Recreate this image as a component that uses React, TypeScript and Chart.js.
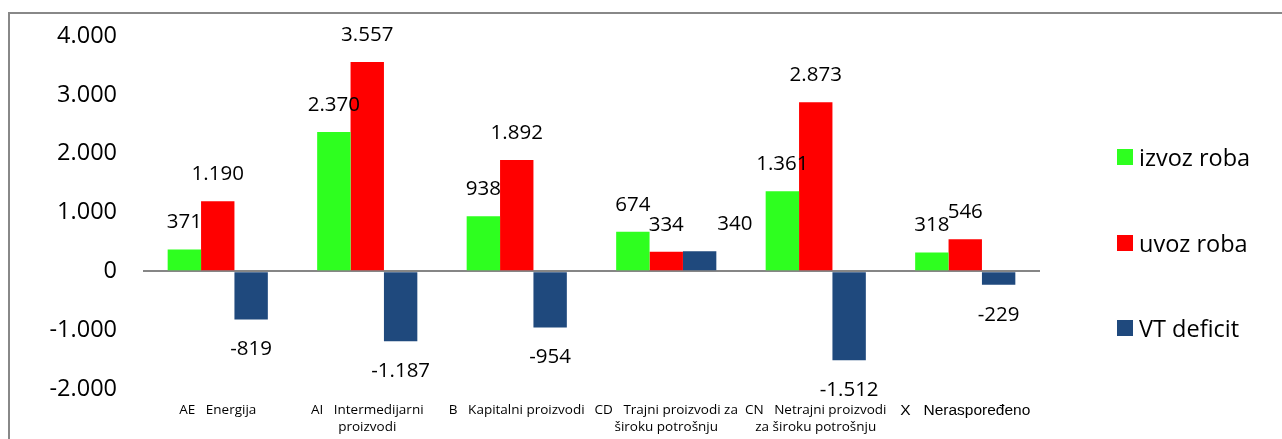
import React, { useEffect, useRef } from 'react';
import { Chart, registerables } from 'chart.js';

Chart.register(...registerables);

const categories: string[][] = [
  ['AE   Energija'],
  ['AI   Intermedijarni', 'proizvodi'],
  ['B   Kapitalni proizvodi'],
  ['CD   Trajni proizvodi za', 'široku potrošnju'],
  ['CN   Netrajni proizvodi', 'za široku potrošnju'],
  ['X   Neraspoređeno'],
];
const seriesNames = ['izvoz roba', 'uvoz roba', 'VT deficit'];
const izvozRoba = [371, 2370, 938, 674, 1361, 318];
const uvozRoba = [1190, 3557, 1892, 334, 2873, 546];
const vtDeficit = [-819, -1187, -954, 340, -1512, -229];
const seriesColors = ['#2EFF1F', '#FF0000', '#1F497D'];
const yMin = -2000;
const yMax = 4000;
const yStep = 1000;

const FONT = '"Open Sans", sans-serif';

function fmt(v: number): string {
  const s = Math.abs(v).toString().replace(/\B(?=(\d{3})+(?!\d))/g, '.');
  return (v < 0 ? '-' : '') + s;
}

const valueLabels = {
  id: 'valueLabels',
  afterDatasetsDraw(chart: any) {
    const { ctx } = chart;
    ctx.save();
    ctx.font = `20.5px ${FONT}`;
    ctx.fillStyle = '#000';
    ctx.textAlign = 'center';
    ctx.textBaseline = 'middle';
    const n = chart.data.labels.length;
    for (let j = 0; j < n; j++) {
      let prev: { right: number; y: number } | null = null;
      chart.data.datasets.forEach((ds: any, i: number) => {
        const el = chart.getDatasetMeta(i).data[j];
        const v = ds.data[j] as number;
        const text = fmt(v);
        const w = ctx.measureText(text).width;
        let x = el.x;
        const y = v >= 0 ? el.y - 27 : el.y + 30;
        if (prev && Math.abs(prev.y - y) < 3 && x - w / 2 < prev.right) {
          x += w;
        }
        ctx.fillText(text, x, y);
        prev = { right: x + w / 2, y };
      });
    }
    ctx.restore();
  },
};

export default function App() {
  const ref = useRef<HTMLCanvasElement | null>(null);

  useEffect(() => {
    if (!ref.current) return;
    const series = [izvozRoba, uvozRoba, vtDeficit];
    const chart = new Chart(ref.current, {
      type: 'bar',
      data: {
        labels: categories,
        datasets: series.map((d, i) => ({
          label: seriesNames[i],
          data: d,
          backgroundColor: seriesColors[i],
          borderWidth: 0,
          barPercentage: 1,
          categoryPercentage: 0.67,
        })),
      },
      options: {
        animation: false,
        responsive: true,
        maintainAspectRatio: false,
        layout: { padding: { top: 22, right: 234, bottom: 0, left: 0 } },
        plugins: {
          legend: { display: false },
          tooltip: { enabled: false },
          title: { display: false },
        },
        scales: {
          x: {
            grid: { display: false, drawTicks: false },
            border: { display: false },
            ticks: {
              color: '#000',
              padding: 13,
              maxRotation: 0,
              minRotation: 0,
              autoSkip: false,
              font: (ctx: any) =>
                ctx.index === 5
                  ? { family: 'Arial, "Liberation Sans", sans-serif', size: 15.5, lineHeight: 1.1 }
                  : { family: FONT, size: 13.5, lineHeight: 1.26 },
            },
            afterFit: (scale: any) => {
              scale.height = 50;
            },
          },
          y: {
            min: yMin,
            max: yMax,
            z: 1,
            border: { display: false },
            grid: {
              drawTicks: true,
              tickLength: 26,
              tickColor: 'rgba(0,0,0,0)',
              lineWidth: 2,
              color: (ctx: any) => (ctx.tick && ctx.tick.value === 0 ? '#868686' : 'rgba(0,0,0,0)'),
            },
            ticks: {
              stepSize: yStep,
              padding: 0,
              color: '#000',
              font: { family: FONT, size: 23.5 },
              callback: (v: any) => fmt(Number(v)),
            },
            afterFit: (scale: any) => {
              scale.width = 133;
            },
          },
        },
      },
      plugins: [valueLabels],
    });
    return () => chart.destroy();
  }, []);

  return (
    <div
      style={{
        position: 'fixed',
        left: 0,
        top: 0,
        width: 1282,
        height: 439,
        overflow: 'hidden',
        background: '#fff',
      }}
    >
      <div
        style={{
          position: 'absolute',
          left: 8,
          top: 12,
          width: 1300,
          height: 500,
          borderLeft: '2px solid #888',
          borderTop: '2px solid #888',
        }}
      />
      <div style={{ position: 'absolute', left: 10, top: 14, width: 1264, height: 425 }}>
        <canvas ref={ref} />
      </div>
      <div
        style={{
          position: 'absolute',
          left: 1117,
          top: 146,
          fontFamily: FONT,
          fontSize: 23.5,
          color: '#000',
        }}
      >
        {seriesNames.map((n, i) => (
          <div
            key={n}
            style={{ display: 'flex', alignItems: 'center', height: 22, marginBottom: i < 2 ? 63.5 : 0 }}
          >
            <span
              style={{
                display: 'inline-block',
                width: 16,
                height: 16,
                background: seriesColors[i],
                marginRight: 6,
              }}
            />
            <span style={{ whiteSpace: 'nowrap' }}>{n}</span>
          </div>
        ))}
      </div>
    </div>
  );
}
